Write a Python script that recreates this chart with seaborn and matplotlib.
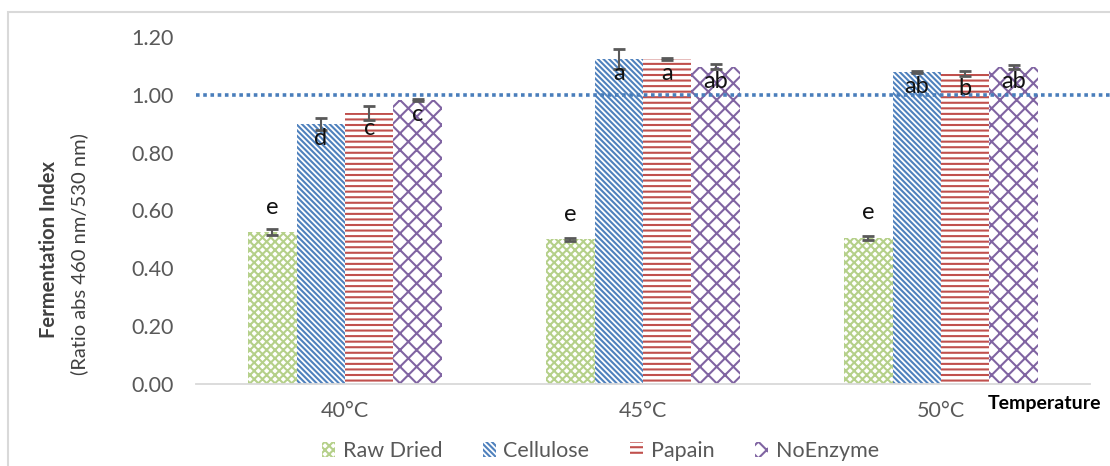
import numpy as np
import pandas as pd
import matplotlib.pyplot as plt
import matplotlib.patches as mpatches
import seaborn as sns

# values
temps = ['40°C', '45°C', '50°C']
treatments = ['Raw Dried', 'Cellulose', 'Papain', 'NoEnzyme']
raw_dried = [0.525, 0.500, 0.505]
cellulose = [0.900, 1.125, 1.080]
papain = [0.937, 1.125, 1.073]
no_enzyme = [0.983, 1.097, 1.097]
raw_err = [0.010, 0.005, 0.006]
cell_err = [0.020, 0.035, 0.004]
pap_err = [0.025, 0.004, 0.008]
noenz_err = [0.004, 0.008, 0.006]
raw_lbl = ['e', 'e', 'e']
cell_lbl = ['d', 'a', 'ab']
pap_lbl = ['c', 'a', 'b']
noenz_lbl = ['c', 'ab', 'ab']

values = [raw_dried, cellulose, papain, no_enzyme]
errors = [raw_err, cell_err, pap_err, noenz_err]
letters = [raw_lbl, cell_lbl, pap_lbl, noenz_lbl]
hatch_colors = ['#B5D08A', '#4F81BD', '#C0504D', '#8064A2']
hatches = ['xxxx', '\\\\\\\\\\\\', '---', 'xx']

df = pd.DataFrame({
    'Temperature': temps * 4,
    'Treatment': np.repeat(treatments, 3),
    'Index': np.concatenate(values),
})

sns.set_style('white')
plt.rcParams['font.family'] = ['Lato', 'DejaVu Sans']
plt.rcParams['hatch.linewidth'] = 1.5

fig = plt.figure(figsize=(11.1, 4.66), dpi=100)
ax = fig.add_axes([0.1766, 0.176, 0.8054, 0.7446])

sns.barplot(data=df, x='Temperature', y='Index', hue='Treatment',
            order=temps, hue_order=treatments, width=0.65, ax=ax,
            errorbar=None, legend=False)

# style bars + error bars + letters
bar_groups = list(ax.containers)
for i, cont in enumerate(bar_groups):
    for j, bar in enumerate(cont.patches):
        bar.set_facecolor('white')
        bar.set_edgecolor(hatch_colors[i])
        bar.set_hatch(hatches[i])
        bar.set_linewidth(0)
        xc = bar.get_x() + bar.get_width() / 2
        v = bar.get_height()
        ax.errorbar(xc, v, yerr=errors[i][j], fmt='none', ecolor='#595959',
                    elinewidth=1.5, capsize=4, capthick=2, zorder=5)
        off = 25 if i == 0 else -15
        ax.annotate(letters[i][j], (xc, v), xytext=(0, off),
                    textcoords='offset pixels', ha='center', va='center',
                    fontsize=17, color='#111111', zorder=6)

# reference line at 1.00
ax.plot([0, 1.023], [1.0, 1.0], transform=ax.get_yaxis_transform(),
        color='#4A7EBB', linestyle=(0, (1, 1)), linewidth=2.6, clip_on=False, zorder=4)

ax.set_ylim(0, 1.2)
ax.set_xlim(-0.5, 2.5)
ax.set_yticks(np.arange(0, 1.21, 0.2))
ax.set_yticklabels([f'{t:.2f}' for t in np.arange(0, 1.21, 0.2)])
ax.tick_params(axis='y', length=0, labelsize=15.5, labelcolor='#595959', pad=16)
ax.tick_params(axis='x', which='major', length=0, labelsize=15.5, labelcolor='#595959', pad=12)
ax.set_xticks([-0.5, 0.5, 1.5, 2.5], minor=True)
ax.tick_params(axis='x', which='minor', length=7, color='#D9D9D9', width=1.3)
for s in ['top', 'right', 'left']:
    ax.spines[s].set_visible(False)
ax.spines['bottom'].set_color('#D9D9D9')
ax.spines['bottom'].set_linewidth(1.3)
ax.set_xlabel('')
ax.set_ylabel('')

fig.text(1045 / 1110, 1 - 404 / 466, 'Temperature', ha='center', va='center',
         fontsize=14, fontweight='bold', color='black')
fig.text(49 / 1110, 1 - 250 / 466, 'Fermentation Index', rotation=90,
         ha='center', va='center', fontsize=14.5, fontweight='bold', color='#404040')
fig.text(79 / 1110, 1 - 254 / 466, '(Ratio abs 460 nm/530 nm)', rotation=90,
         ha='center', va='center', fontsize=14.5, color='#404040')

handles = [mpatches.Patch(facecolor='white', edgecolor=c, hatch=h, linewidth=0)
           for c, h in zip(hatch_colors, hatches)]
leg = fig.legend(handles, treatments, loc='center', bbox_to_anchor=(0.541, 1 - 451 / 466),
                 ncol=4, frameon=False, fontsize=15.5, handlelength=0.6, handleheight=0.7,
                 handletextpad=0.35, columnspacing=1.9)
for t in leg.get_texts():
    t.set_color('#595959')

# outer chart border
fig.patches.append(mpatches.Rectangle((8 / 1110, -0.05), 1.1, 1.05 - 12 / 466,
                                      transform=fig.transFigure, fill=False,
                                      edgecolor='#D9D9D9', linewidth=1.5))

fig.savefig('out.png', dpi=100)
